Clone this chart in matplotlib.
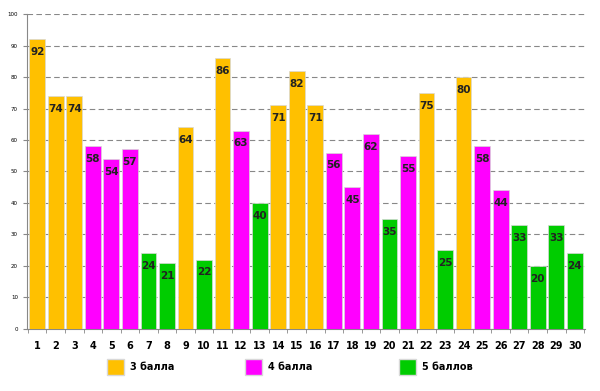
import numpy as np
import matplotlib.pyplot as plt

tasks = list(range(1, 31))
values = [92, 74, 74, 58, 54, 57, 24, 21, 64, 22, 86, 63, 40, 71, 82, 71,
          56, 45, 62, 35, 55, 75, 25, 80, 58, 44, 33, 20, 33, 24]
points = [3, 3, 3, 4, 4, 4, 5, 5, 3, 5, 3, 4, 5, 3, 3, 3,
          4, 4, 4, 5, 4, 3, 5, 3, 4, 4, 5, 5, 5, 5]
legend_labels = {3: '3 балла', 4: '4 балла', 5: '5 баллов'}
colors = {3: '#FFC000', 4: '#FF00FF', 5: '#00CC00'}

fig = plt.figure(figsize=(6, 3.91), dpi=100)
ax = fig.add_axes([0.045, 0.159, 0.93, 0.805])

x = np.arange(len(tasks))
bar_colors = [colors[p] for p in points]
ax.bar(x, values, width=0.85, color=bar_colors, edgecolor='#d8d8d8',
       linewidth=0.5, zorder=3)
for xi, v in zip(x, values):
    ax.text(xi, v - 2.5, str(v), ha='center', va='top', fontsize=7.5,
            fontweight='bold', color='#222222', zorder=4)

ax.set_xlim(-0.55, len(tasks) - 0.45)
ax.set_ylim(0, 100)
ax.set_yticks(range(0, 101, 10))
ax.tick_params(axis='y', labelsize=4, length=3, color='#888888')
ax.set_xticks(x)
ax.set_xticklabels([str(t) for t in tasks], fontsize=7, fontweight='bold')
ax.tick_params(axis='x', length=0, pad=9)
ax.set_xticks(np.arange(-0.5, len(tasks)), minor=True)
ax.tick_params(axis='x', which='minor', length=3, color='#888888')
ax.grid(axis='y', linestyle=(0, (5, 3)), color='#888888', linewidth=0.8, zorder=0)
for s in ['top', 'right']:
    ax.spines[s].set_visible(False)
ax.spines['left'].set_color('#888888')
ax.spines['bottom'].set_color('#888888')

# legend drawn by hand below the axes
xs = [0.178, 0.408, 0.665]
for xp, k in zip(xs, legend_labels):
    fig.patches.append(plt.Rectangle((xp, 0.041), 0.028, 0.041,
                                     transform=fig.transFigure,
                                     facecolor=colors[k], edgecolor='#d8d8d8'))
    fig.text(xp + 0.038, 0.061, legend_labels[k], fontsize=7, fontweight='bold',
             va='center', ha='left')

fig.savefig('out.png')
